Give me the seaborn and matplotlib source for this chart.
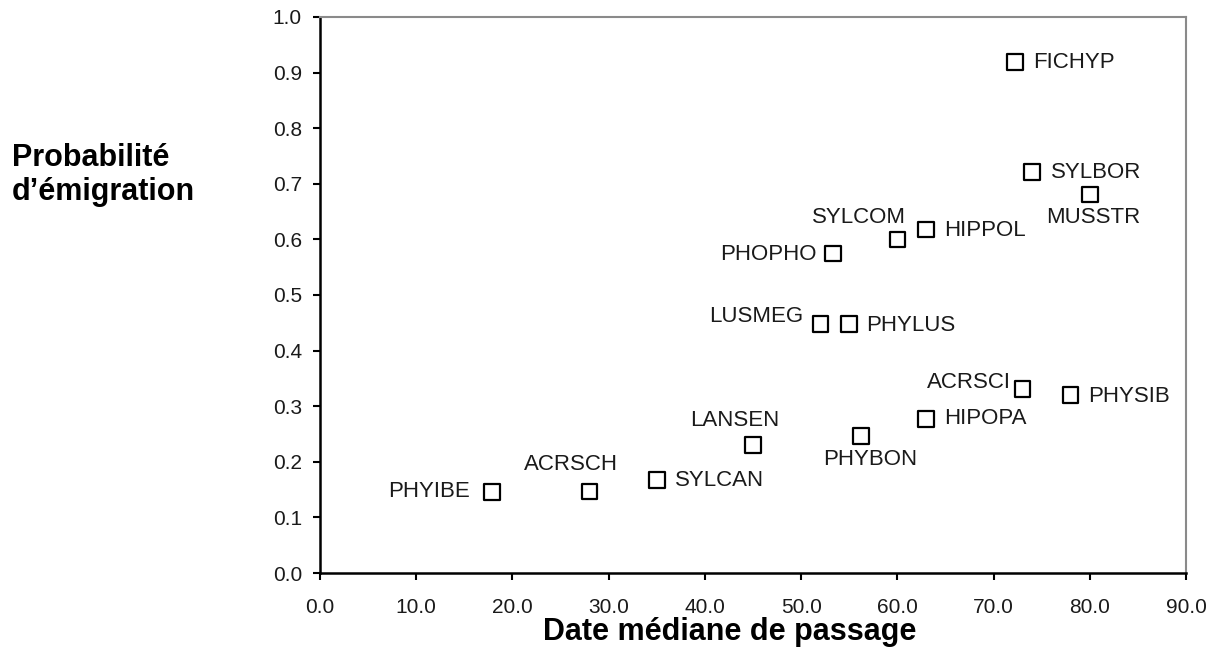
import matplotlib
matplotlib.use("Agg")
import matplotlib.pyplot as plt
import seaborn as sns
import pandas as pd

species = ["PHYIBE", "ACRSCH", "SYLCAN", "LANSEN", "PHYBON", "HIPOPA", "ACRSCI", "PHYSIB",
           "LUSMEG", "PHYLUS", "PHOPHO", "SYLCOM", "HIPPOL", "MUSSTR", "SYLBOR", "FICHYP"]
dates = [17.9, 28.0, 35.0, 45.0, 56.2, 63.0, 73.0, 78.0,
         52.0, 55.0, 53.3, 60.0, 63.0, 80.0, 74.0, 72.2]
probs = [0.146, 0.147, 0.167, 0.230, 0.246, 0.277, 0.331, 0.320,
         0.448, 0.448, 0.575, 0.600, 0.618, 0.681, 0.721, 0.919]
x_ticks = [0, 10, 20, 30, 40, 50, 60, 70, 80, 90]
y_ticks = [0.0, 0.1, 0.2, 0.3, 0.4, 0.5, 0.6, 0.7, 0.8, 0.9, 1.0]

# label placement (pixel offsets, horizontal alignment)
label_style = {
    "PHYIBE": (-22, 0, "right"), "ACRSCH": (-18, 27, "center"), "SYLCAN": (18, 0, "left"),
    "LANSEN": (-18, 25, "center"), "PHYBON": (9, -23, "center"), "HIPOPA": (18, 0, "left"),
    "ACRSCI": (-11, 6, "right"), "PHYSIB": (18, -1, "left"), "LUSMEG": (-17, 7, "right"),
    "PHYLUS": (17, -2, "left"), "PHOPHO": (-16, -1, "right"), "SYLCOM": (9, 22, "right"),
    "HIPPOL": (18, -1, "left"), "MUSSTR": (3, -23, "center"), "SYLBOR": (19, 0, "left"),
    "FICHYP": (18, 0, "left"),
}

df = pd.DataFrame({"species": species, "date": dates, "prob": probs})

sns.set_style("white")
plt.rcParams["font.family"] = ["Liberation Sans", "DejaVu Sans"]
plt.rcParams["text.color"] = "black"

fig = plt.figure(figsize=(12.27, 6.68), dpi=100)
ax = fig.add_axes([0.2608, 0.1422, 0.9666 - 0.2608, 0.9746 - 0.1422])

sns.scatterplot(data=df, x="date", y="prob", marker="s", s=125,
                facecolors="none", edgecolor="black", linewidth=1.6, ax=ax, zorder=3)

for sp, xv, yv in zip(species, dates, probs):
    dx, dy, ha = label_style[sp]
    ax.annotate(sp, (xv, yv), xytext=(dx, dy), textcoords="offset pixels",
                ha=ha, va="center", fontsize=16, color="#1a1a1a")

ax.set_xlim(0, 90)
ax.set_ylim(0, 1.0)
ax.set_xticks(x_ticks)
ax.set_xticklabels([f"{v:.1f}" for v in x_ticks])
ax.set_yticks(y_ticks)
ax.set_yticklabels([f"{v:.1f}" for v in y_ticks])
ax.tick_params(axis="both", which="major", direction="out", length=5, width=1.5,
               color="black", labelsize=15, labelcolor="#1a1a1a", left=True, bottom=True)
ax.tick_params(axis="x", pad=13)
ax.tick_params(axis="y", pad=8)

for side in ["left", "bottom"]:
    ax.spines[side].set_color("black")
    ax.spines[side].set_linewidth(1.8)
for side in ["top", "right"]:
    ax.spines[side].set_color("#8a8a8a")
    ax.spines[side].set_linewidth(1.5)

ax.set_xlabel("")
ax.set_ylabel("")
fig.text(730 / 1227, 1 - 632 / 668, "Date médiane de passage",
         ha="center", va="center", fontsize=22, fontweight="bold", color="black")
fig.text(12 / 1227, 1 - 175 / 668, "Probabilité\nd’émigration", ha="left", va="center",
         fontsize=22, fontweight="bold", linespacing=1.15, color="black")

fig.savefig("out.png", dpi=100)
